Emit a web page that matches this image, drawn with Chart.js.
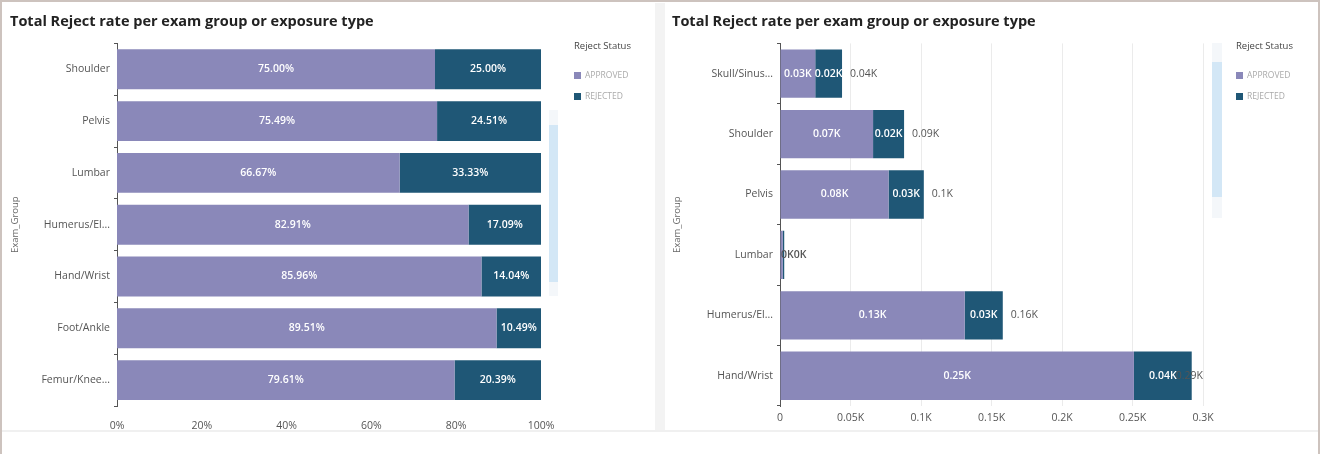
<!DOCTYPE html>
<html>
<head>
<meta charset="utf-8">
<script src="https://cdn.jsdelivr.net/npm/chart.js@4.4.1/dist/chart.umd.min.js"></script>
<style>
  body { margin: 0; background: #fff; font-family: "Open Sans", "Noto Sans", sans-serif; }
  #page { position: relative; width: 1320px; height: 454px; overflow: hidden; background: #fff; }
  .frame { position: absolute; left: 0; top: 0; width: 1316px; height: 454px;
           border-left: 2px solid #cdc3be; border-top: 2px solid #cdc3be; border-right: 2px solid #cdc3be; }
  .panel { position: absolute; top: 3px; width: 652px; height: 428px; background: #fff; }
  .gap { position: absolute; left: 655px; top: 3px; width: 10px; height: 428px; background: #f3f3f3; }
  .baseline { position: absolute; left: 2px; top: 430px; width: 1316px; height: 2px; background: #f0f0f0; }
  .legend { position: absolute; font-size: 9.5px; color: #444; }
  .legend .ttl { margin-bottom: 17px; }
  .legend .item { color: #aaa; font-size: 8.5px; height: 21px; }
  .legend .sw { display: inline-block; width: 7px; height: 7px; margin-right: 4px; vertical-align: -1px; }
  .track { position: absolute; background: #f4f7fa; }
  .thumb { position: absolute; background: #d3e7f6; }
</style>
</head>
<body>
<div id="page">
  <div class="frame"></div>
  <div class="gap"></div>
  <div class="panel" style="left:3px"><canvas id="left" width="652" height="428"></canvas></div>
  <div class="panel" style="left:665px"><canvas id="right" width="652" height="428"></canvas></div>
  <div class="baseline"></div>

  <div class="track" style="left:549px;top:110px;width:9px;height:186px"></div>
  <div class="thumb" style="left:549px;top:125px;width:9px;height:157px"></div>
  <div class="track" style="left:1212px;top:43px;width:10px;height:175px"></div>
  <div class="thumb" style="left:1212px;top:62px;width:10px;height:135px"></div>

  <div class="legend" style="left:574px;top:39px">
    <div class="ttl">Reject Status</div>
    <div class="item"><span class="sw" style="background:#8a88b9"></span>APPROVED</div>
    <div class="item"><span class="sw" style="background:#1f5776"></span>REJECTED</div>
  </div>
  <div class="legend" style="left:1236px;top:39px">
    <div class="ttl">Reject Status</div>
    <div class="item"><span class="sw" style="background:#8a88b9"></span>APPROVED</div>
    <div class="item"><span class="sw" style="background:#1f5776"></span>REJECTED</div>
  </div>
</div>
<script>
// left chart: share of approved / rejected per exam group (%)
const pctGroups = ['Shoulder', 'Pelvis', 'Lumbar', 'Humerus/El...', 'Hand/Wrist', 'Foot/Ankle', 'Femur/Knee...']
const pctApproved = [75.00, 75.49, 66.67, 82.91, 85.96, 89.51, 79.61]
const pctRejected = [25.00, 24.51, 33.33, 17.09, 14.04, 10.49, 20.39]
const pctTicks = [0, 20, 40, 60, 80, 100]

// right chart: counts per exam group
const cntGroups = ['Skull/Sinus...', 'Shoulder', 'Pelvis', 'Lumbar', 'Humerus/El...', 'Hand/Wrist']
const cntApproved = [25, 66, 77, 2, 131, 251]
const cntRejected = [19, 22, 25, 1, 27, 41]
const cntTicks = [0, 50, 100, 150, 200, 250, 300]

const APPROVED = '#8a88b9'
const REJECTED = '#1f5776'
const FONT = '"Open Sans", "Noto Sans", sans-serif'

function kFmt(v) {
    if (v === 0) return '0'
    return parseFloat((v / 1000).toFixed(2)) + 'K'
}
function kLabel(v) {
    return parseFloat((v / 1000).toFixed(2)) + 'K'
}

// draws value labels inside segments and totals after the bar
function makeLabelPlugin(fmt, showTotal) {
    return {
        id: 'segLabels',
        afterDatasetsDraw: (chart) => {
            const {ctx, chartArea} = chart
            ctx.save()
            ctx.font = '600 10.5px ' + FONT
            ctx.textBaseline = 'middle'
            const n = chart.data.labels.length
            for (let i = 0; i < n; i++) {
                let prevRight = chartArea.left + 1
                let end = chartArea.left
                let total = 0
                let y = 0
                const parts = []
                chart.data.datasets.forEach((ds, di) => {
                    const el = chart.getDatasetMeta(di).data[i]
                    const txt = fmt(ds.data[i])
                    const w = ctx.measureText(txt).width
                    let left = Math.max((el.x + el.base) / 2 - w / 2, prevRight)
                    // labels that do not fit in their segment go dark on white
                    const fits = w <= Math.abs(el.x - el.base) + 6
                    parts.push([txt, left, fits ? '#fff' : '#555'])
                    prevRight = left + w
                    end = Math.max(end, el.x)
                    total += ds.data[i]
                    y = el.y
                })
                if (showTotal) {
                    ctx.font = '10.5px ' + FONT
                    const txt = fmt(total)
                    const w = ctx.measureText(txt).width
                    let left = Math.min(end + 8, chartArea.right - w)
                    if (left > prevRight - 4) {
                        ctx.fillStyle = '#555'
                        ctx.textAlign = 'left'
                        ctx.fillText(txt, left, y)
                    }
                    ctx.font = '600 10.5px ' + FONT
                }
                ctx.textAlign = 'left'
                parts.forEach(p => {
                    ctx.fillStyle = p[2]
                    ctx.fillText(p[0], p[1], y)
                })
            }
            ctx.restore()
        }
    }
}

function buildChart(id, labels, approved, rejected, xOpts, fmt, showTotal, barPct, axisW) {
    const ctx = document.getElementById(id).getContext('2d')
    return new Chart(ctx, {
        type: 'bar',
        data: {
            labels: labels,
            datasets: [
                {label: 'APPROVED', data: approved, backgroundColor: APPROVED, barPercentage: barPct, categoryPercentage: 1},
                {label: 'REJECTED', data: rejected, backgroundColor: REJECTED, barPercentage: barPct, categoryPercentage: 1}
            ]
        },
        options: {
            indexAxis: 'y',
            responsive: false,
            animation: false,
            layout: {padding: {left: 7, right: 114, bottom: 0, top: 0}},
            scales: {
                x: Object.assign({
                    stacked: true,
                    border: {display: false},
                    afterFit: (s) => { s.height = 25 },
                }, xOpts),
                y: {
                    stacked: true,
                    afterFit: (s) => { s.width = axisW },
                    border: {display: true, color: '#555', width: 1},
                    grid: {display: true, drawOnChartArea: false, tickLength: 3, color: '#555'},
                    ticks: {color: '#555', font: {family: FONT, size: 10.5}, padding: 4},
                    title: {display: true, text: 'Exam_Group', color: '#666', font: {family: FONT, size: 9.5}, padding: 0}
                }
            },
            plugins: {
                legend: {display: false},
                tooltip: {enabled: false},
                title: {
                    display: true, text: 'Total Reject rate per exam group or exposure type',
                    align: 'start', color: '#222',
                    font: {family: FONT, size: 14.5, weight: 'bold', lineHeight: 1.2},
                    padding: {top: 10, bottom: 13}
                }
            }
        },
        plugins: [makeLabelPlugin(fmt, showTotal)]
    })
}

buildChart('left', pctGroups, pctApproved, pctRejected, {
    min: pctTicks[0], max: pctTicks[pctTicks.length - 1],
    grid: {display: false},
    afterBuildTicks: (s) => { s.ticks = pctTicks.map(v => ({value: v})) },
    ticks: {color: '#555', font: {family: FONT, size: 10.5}, padding: 6, callback: (v) => v + '%'}
}, (v) => v.toFixed(2) + '%', false, 0.77, 107)

buildChart('right', cntGroups, cntApproved, cntRejected, {
    min: cntTicks[0], max: cntTicks[cntTicks.length - 1],
    grid: {display: true, color: '#ebebeb', tickLength: 0},
    afterBuildTicks: (s) => { s.ticks = cntTicks.map(v => ({value: v})) },
    ticks: {color: '#555', font: {family: FONT, size: 10.5}, padding: 6, callback: (v) => kFmt(v)}
}, kLabel, true, 0.8, 108)
</script>
</body>
</html>
